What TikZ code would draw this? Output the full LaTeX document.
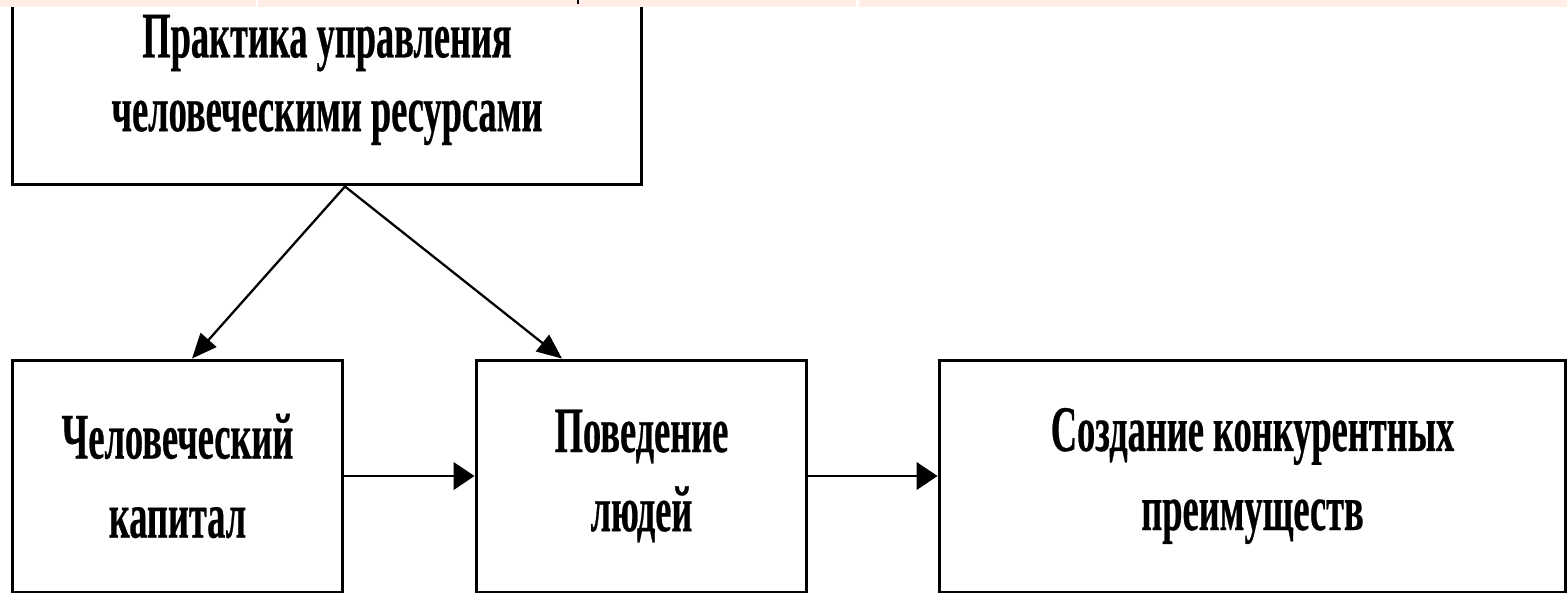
\documentclass[tikz,border=0pt]{standalone}
\usepackage{fontspec}
\usetikzlibrary{arrows.meta}
\newfontfamily\boxfont[FakeStretch=0.56,FakeBold=0.4]{Liberation Serif Bold}
\definecolor{stripbg}{HTML}{FFEDE6}
\tikzset{
  block/.style={draw=black, line width=1.7pt, fill=white, rectangle,
    align=center, inner sep=0pt,
    font=\boxfont\fontsize{37}{45}\selectfont},
  link/.style={draw=black, line width=1.4pt,
    -{Triangle[length=0.42cm, width=0.55cm]}},
  slant/.style={draw=black, line width=1.3pt,
    -{Triangle[length=0.5cm, width=0.42cm]}}
}
\begin{document}
\begin{tikzpicture}[x=0.02cm, y=-0.02cm]
  \useasboundingbox (0,0) rectangle (1567,593);
  \fill[white] (0,0) rectangle (1567,593);
  \clip (0,0) rectangle (1567,593);

  % boxes
  \node[block, minimum width=12.6cm, minimum height=4.2cm] (top) at (327,80)
    {Практика управления\\[-3pt]человеческими ресурсами};
  \node[block, minimum width=6.62cm, minimum height=4.64cm] (hc) at (177.5,476)
    {Человеческий\\капитал};
  \node[block, minimum width=6.62cm, minimum height=4.64cm] (beh) at (641.5,476)
    {Поведение\\людей};
  \node[block, minimum width=12.54cm, minimum height=4.64cm] (adv) at (1252.5,476)
    {Создание конкурентных\\преимуществ};

  % connectors
  \coordinate (apex) at ([xshift=0.36cm]top.south);
  \coordinate (hcin) at ([xshift=0.29cm]hc.north);
  \coordinate (behin) at ([xshift=-1.59cm]beh.north);
  \draw[slant] (apex) -- (hcin);
  \draw[slant] (apex) -- (behin);
  \draw[link] (hc.east) -- (beh.west);
  \draw[link] (beh.east) -- (adv.west);

  % strip along the upper edge
  \fill[stripbg] (0,0) rectangle (1567,7);
  \fill[white] (256,0) rectangle (258,7);
  \fill[white] (856,0) rectangle (859,7);
  \draw[black, line width=1pt] (578,0) -- (578,4);
\end{tikzpicture}
\end{document}
